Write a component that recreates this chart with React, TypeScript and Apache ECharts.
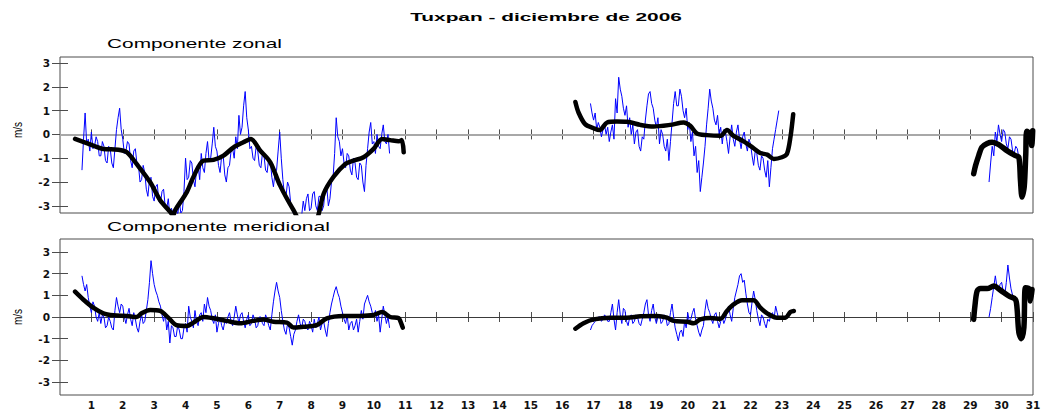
import React, { useEffect, useRef } from "react";
import * as echarts from "echarts";

// ---------- texts ----------
const TITLE = "Tuxpan - diciembre de 2006";
const PANEL_TITLES = ["Componente zonal", "Componente meridional"];
const Y_UNIT = "m/s";

// ---------- ticks ----------
const DAY_TICKS = [1, 2, 3, 4, 5, 6, 7, 8, 9, 10, 11, 12, 13, 14, 15, 16, 17, 18, 19, 20, 21, 22, 23, 24, 25, 26, 27, 28, 29, 30, 31];
const VALUE_TICKS = [-3, -2, -1, 0, 1, 2, 3];
const BLUE_STEP = 0.05; // days between samples of the raw series

// ---------- Componente zonal : raw (blue) ----------
const zonalRaw1Start = 0.7;
const zonalRaw1 = [-1.5, -0.2, 0.9, -0.4, -0.2, -0.7, 0.1, -0.6, -0.5, -0.1, -0.3, -0.9, -0.9, -0.3, -0.5, -1.1, -1.2, -0.5, -0.6, -1.2, -1.4, -0.6, 0.2, 0.7, 1.1, 0.2, -0.2, -0.8, -0.7, -0.3, -0.4, -1.1, -1.4, -0.7, -0.6, -1.2, -1.3, -2.0, -1.9, -1.3, -1.6, -2.3, -2.6, -1.9, -1.8, -2.6, -2.8, -2.2, -2.1, -2.8, -2.9, -2.4, -2.3, -3.0, -3.1, -2.7, -3.4, -3.1, -3.3, -3.5, -3.0, -3.4, -2.8, -3.3, -3.2, -2.4, -1.0, -1.9, -1.8, -1.1, -1.2, -1.9, -2.2, -1.5, -1.3, -1.9, -0.8, -1.4, -1.6, -0.8, -0.3, -1.1, -1.0, -0.4, 0.3, -0.5, -0.7, -1.3, -1.6, -0.9, -0.9, -1.7, -2.0, -1.4, -1.3, -0.7, -0.6, -1.0, -0.1, -0.6, 0.8, 0.0, 0.3, 1.2, 1.8, 0.7, 0.2, -0.6, -0.5, -1.0, -1.1, -0.5, -0.7, -1.3, -1.4, -0.8, -0.9, -1.5, -1.6, -1.0, -1.1, -1.8, -2.2, -1.6, -1.5, -0.7, 0.1, -1.0, -1.9, -2.5, -2.6, -2.0, -2.2, -2.9, -3.1, -3.4, -3.5, -3.7, -3.6, -3.6, -3.4, -2.8, -3.2, -2.7, -2.5, -3.2, -3.1, -2.5, -2.4, -3.0, -3.2, -2.6, -2.6, -3.2, -3.0, -2.3, -2.2, -3.0, -2.7, -2.0, -1.8, -0.8, 0.7, -0.1, -0.3, -0.9, -0.6, -1.2, -1.4, -0.8, -0.9, -1.5, -1.7, -1.0, -1.2, -1.8, -1.9, -1.2, -1.3, -2.0, -2.4, -1.3, -0.6, 0.1, 0.5, -0.4, -0.3, -0.8, 0.0, -0.5, -0.6, 0.0, 0.4, -0.3, -0.4, 0.0, -0.8];
const zonalRaw2Start = 16.9;
const zonalRaw2 = [1.3, 0.9, 0.6, 0.9, 0.2, 0.5, 0.3, -0.1, 0.2, 0.4, 0.0, 0.3, -0.3, 0.1, 0.4, -0.2, 1.5, 0.9, 2.4, 1.9, 1.6, 1.1, 0.8, 1.2, 0.3, 0.7, 0.0, 0.4, -0.4, 0.1, 0.2, -0.5, -0.7, -0.1, -0.2, 0.6, 1.2, 1.7, 1.8, 1.3, 1.1, 0.6, 0.3, 0.7, -0.4, 0.2, 0.0, -0.5, -0.7, -0.2, -1.1, -0.3, 0.5, 1.3, 1.8, 1.2, 1.2, 1.9, 1.6, 1.0, 0.7, 1.1, 0.2, 0.5, -0.3, 0.1, -0.9, -0.5, -1.6, -1.1, -2.4, -1.8, -1.2, -0.5, 0.4, 1.1, 1.9, 1.4, 1.1, 0.6, 0.4, 0.8, 0.0, 0.3, -0.4, 0.2, 0.1, -0.3, -0.8, -0.1, 0.4, -0.2, -0.5, 0.1, 0.4, -0.2, -0.6, -0.1, 0.1, -0.4, -0.7, -0.2, -0.4, -0.9, -1.3, -0.7, -0.8, -1.3, -1.5, -0.9, -1.0, -1.5, -1.8, -1.1, -2.2, -1.4, -0.6, -0.2, 0.2, 0.6, 1.0];
const zonalRaw3Start = 29.6;
const zonalRaw3 = [-2.0, -1.2, -0.5, -0.9, 0.1, -0.3, 0.4, 0.0, -0.3, 0.2, 0.1, -0.4, -0.6, -0.1, -0.2, -0.7, -0.8, -0.5, -0.6, -1.0, -1.3];

// ---------- Componente zonal : filtered (black) ----------
const zonalSmooth1Days = [0.48, 1.06, 1.38, 1.86, 2.13, 2.44, 2.87, 3.19, 3.51, 3.6, 3.67, 4.04, 4.25, 4.57, 4.89, 5.21, 5.53, 5.84, 6.08, 6.38, 6.7, 7.01, 7.44, 7.8, 8.1, 8.24, 8.4, 8.71, 9.09, 9.35, 9.67, 9.99, 10.26, 10.52, 10.79, 10.89, 10.95];
const zonalSmooth1 = [-0.19, -0.47, -0.61, -0.64, -0.75, -1.24, -2.0, -2.76, -3.25, -3.4, -3.18, -2.42, -1.79, -1.1, -1.07, -0.89, -0.54, -0.33, -0.19, -0.68, -1.17, -2.14, -3.18, -3.9, -3.8, -3.35, -2.49, -1.79, -1.24, -1.1, -0.96, -0.61, -0.19, -0.24, -0.29, -0.24, -0.75];
const zonalSmooth2Days = [16.42, 16.52, 16.73, 17.0, 17.19, 17.43, 17.74, 18.06, 18.49, 18.91, 19.44, 19.87, 20.08, 20.29, 20.61, 21.04, 21.25, 21.46, 21.78, 22.1, 22.31, 22.53, 22.74, 23.0, 23.16, 23.27, 23.36];
const zonalSmooth2 = [1.36, 0.92, 0.43, 0.26, 0.18, 0.5, 0.54, 0.53, 0.4, 0.33, 0.4, 0.5, 0.36, 0.04, -0.03, -0.06, 0.18, -0.06, -0.29, -0.58, -0.78, -0.85, -1.03, -0.96, -0.82, -0.13, 0.85];
const zonalSmooth3Days = [29.11, 29.17, 29.27, 29.37, 29.54, 29.7, 29.91, 30.17, 30.44, 30.55, 30.6, 30.65, 30.72, 30.77, 30.8, 30.91, 30.96, 30.99];
const zonalSmooth3 = [-1.65, -1.31, -0.89, -0.54, -0.38, -0.33, -0.43, -0.68, -0.89, -0.96, -1.93, -2.63, -2.21, -0.82, 0.13, 0.01, -0.47, 0.15];

// ---------- Componente meridional : raw (blue) ----------
const meridRaw1Start = 0.7;
const meridRaw1 = [1.9, 1.5, 1.2, 1.5, 0.9, 0.5, 0.2, 0.7, 0.5, 0.0, -0.2, 0.2, -0.3, 0.1, 0.0, -0.5, -0.4, 0.0, -0.2, -0.5, -0.6, 0.3, 0.9, 0.5, 0.2, 0.6, 0.5, 0.0, -0.3, 0.1, 0.4, -0.1, -0.4, 0.2, -0.1, -0.5, -0.7, -0.2, 0.1, -0.3, -0.2, 0.3, 0.8, 1.6, 2.6, 2.0, 1.5, 1.2, 1.0, 0.7, 0.5, 0.1, -0.2, 0.2, -0.6, -0.2, -1.2, -0.4, -0.5, -0.9, -0.9, -0.4, -0.6, -1.0, -1.0, -0.5, -0.3, -0.7, 0.5, 0.0, -0.2, -0.5, 0.3, -0.2, -0.4, 0.1, 0.2, -0.2, 0.6, 0.2, 0.9, 0.5, 0.3, -0.1, -0.3, 0.1, -0.7, -0.3, 0.0, -0.4, -0.6, -0.2, -0.3, 0.0, 0.2, -0.2, -0.4, 0.0, 0.5, 0.1, -0.3, 0.1, 0.2, -0.2, -0.5, -0.1, 0.1, -0.4, -0.3, 0.1, -0.1, -0.5, -0.4, 0.0, 0.0, -0.3, -0.4, 0.1, -0.1, -0.4, -0.6, 0.1, 0.7, 1.2, 1.6, 1.2, 0.9, 0.3, -0.2, -0.6, -0.8, -0.3, -0.5, -0.9, -1.3, -0.8, -0.6, -0.2, 0.1, -0.3, -0.5, -0.1, -0.2, -0.5, -0.6, -0.2, -0.4, -0.7, -0.1, -0.5, -0.3, 0.0, -0.6, -0.3, -0.2, -0.6, -0.9, -0.3, 0.2, 0.6, 0.9, 1.2, 1.4, 1.1, 0.9, 0.5, 0.2, -0.1, -0.3, 0.1, -0.6, -0.3, -0.2, -0.6, -0.4, -0.1, -0.7, -0.2, 0.3, -0.1, 0.6, 0.8, 1.0, 0.7, 0.5, 0.2, 0.0, 0.3, -0.2, 0.1, -0.7, -0.1, 0.5, 0.1, -0.3, 0.0, -0.5];
const meridRaw2Start = 16.9;
const meridRaw2 = [-0.6, -0.4, -0.3, -0.2, -0.1, 0.0, 0.0, -0.2, -0.1, 0.1, 0.0, -0.2, -0.2, 0.2, 0.6, -0.1, -0.6, 0.2, 0.8, 0.1, -0.3, 0.4, 0.3, -0.2, -0.4, 0.0, 0.1, -0.3, -0.2, 0.1, 0.0, -0.3, -0.4, -0.1, 0.2, 0.6, 0.8, 0.1, -0.2, 0.3, 0.6, 0.0, -0.3, 0.0, 0.1, -0.3, -0.2, 0.1, 0.0, -0.4, -0.3, 0.2, 0.6, 0.0, -0.5, -0.8, -1.1, -0.7, -0.6, -0.9, -0.2, -0.5, 0.2, -0.2, -0.1, 0.2, 0.4, -0.1, -0.4, -0.7, -0.9, -0.6, -0.4, 0.3, 0.8, 0.4, 0.2, -0.1, -0.3, 0.1, 0.2, -0.2, -0.5, -0.2, 0.0, -0.3, -0.1, 0.2, 0.5, 0.1, -0.2, 0.4, 0.9, 1.2, 1.5, 1.9, 2.0, 1.6, 1.7, 1.1, 0.6, 0.2, 0.1, 0.7, 1.2, 0.8, 0.3, -0.1, -0.4, 0.1, 0.0, -0.3, -0.5, -0.1, -0.2, 0.1, 0.2, -0.1, 0.5, 0.2, -0.1];
const meridRaw3Start = 29.6;
const meridRaw3 = [0.0, 0.4, 0.9, 1.4, 1.9, 1.4, 1.2, 1.5, 1.6, 1.2, 1.0, 1.6, 2.4, 1.8, 1.3, 1.0, 0.9, 0.6, 0.4];

// ---------- Componente meridional : filtered (black) ----------
const meridSmooth1Days = [0.48, 0.74, 1.06, 1.38, 1.7, 2.13, 2.44, 2.6, 2.87, 3.19, 3.45, 3.72, 4.04, 4.25, 4.57, 4.89, 5.31, 5.74, 6.16, 6.48, 6.8, 7.23, 7.44, 7.76, 8.18, 8.5, 9.03, 9.56, 9.99, 10.26, 10.52, 10.79, 10.84, 10.92];
const meridSmooth1 = [1.17, 0.81, 0.43, 0.17, 0.08, 0.05, 0.0, 0.17, 0.32, 0.28, -0.03, -0.38, -0.41, -0.26, 0.0, -0.06, -0.18, -0.29, -0.18, -0.11, -0.22, -0.26, -0.49, -0.45, -0.38, -0.06, 0.05, 0.05, 0.09, 0.23, 0.0, -0.05, -0.18, -0.49];
const meridSmooth2Days = [16.42, 16.68, 17.0, 17.53, 18.06, 18.49, 19.02, 19.34, 19.55, 19.98, 20.19, 20.4, 20.72, 21.04, 21.25, 21.46, 21.73, 22.1, 22.31, 22.53, 22.84, 23.11, 23.27, 23.38];
const meridSmooth2 = [-0.54, -0.29, -0.11, -0.03, -0.03, 0.03, 0.05, -0.03, -0.18, -0.22, -0.29, -0.11, -0.05, -0.08, 0.28, 0.58, 0.77, 0.77, 0.43, 0.17, -0.03, -0.03, 0.23, 0.28];
const meridSmooth3Days = [29.11, 29.15, 29.22, 29.33, 29.54, 29.75, 29.97, 30.23, 30.44, 30.49, 30.55, 30.63, 30.71, 30.76, 30.87, 30.92, 30.97];
const meridSmooth3 = [-0.11, 0.51, 1.2, 1.31, 1.31, 1.43, 1.23, 0.97, 0.81, 0.43, -0.72, -1.0, -0.49, 1.35, 1.31, 0.74, 1.27];

// ---------- helpers ----------
const rawPairs = (start: number, vals: number[]) => vals.map((v, i) => [+(start + i * BLUE_STEP).toFixed(3), v]);
const pairs = (days: number[], vals: number[]) => days.map((d, i) => [d, vals[i]]);

const panels = [
  {
    raw: [rawPairs(zonalRaw1Start, zonalRaw1), rawPairs(zonalRaw2Start, zonalRaw2), rawPairs(zonalRaw3Start, zonalRaw3)],
    smooth: [pairs(zonalSmooth1Days, zonalSmooth1), pairs(zonalSmooth2Days, zonalSmooth2), pairs(zonalSmooth3Days, zonalSmooth3)],
    min: -3.3, max: 3.25, zeroColor: "#a8a8a8", zeroWidth: 2,
  },
  {
    raw: [rawPairs(meridRaw1Start, meridRaw1), rawPairs(meridRaw2Start, meridRaw2), rawPairs(meridRaw3Start, meridRaw3)],
    smooth: [pairs(meridSmooth1Days, meridSmooth1), pairs(meridSmooth2Days, meridSmooth2), pairs(meridSmooth3Days, meridSmooth3)],
    min: -3.6, max: 3.6, zeroColor: "#3a3a3a", zeroWidth: 1,
  },
];

const GRID_TOPS = [57, 239];
const FRAME = "#4d4d4d";
const LABEL_FONT = "DejaVu Sans";
const SMOOTH_WIDTHS = [4.5, 4.5, 5.5];

function measure(text: string, font: string): number {
  const c = document.createElement("canvas").getContext("2d");
  if (!c) return text.length * 7;
  c.font = font;
  return c.measureText(text).width;
}

export default function App() {
  const ref = useRef<HTMLDivElement>(null);
  useEffect(() => {
    if (!ref.current) return;
    const chart = echarts.init(ref.current, undefined, { renderer: "svg" });

    const grid: any[] = [];
    const xAxis: any[] = [];
    const yAxis: any[] = [];
    const series: any[] = [];
    const labelStyle = { fontFamily: LABEL_FONT, fontSize: 10.5, fontWeight: "bold", color: "#111" };

    panels.forEach((p, pi) => {
      grid.push({ left: 60, right: 13, top: GRID_TOPS[pi], height: 156, show: true, borderColor: FRAME, borderWidth: 1, backgroundColor: "transparent" });
      const xBase = {
        gridIndex: pi, type: "value", min: 0, max: 31, interval: 1,
        axisLine: { show: false }, splitLine: { show: false },
        axisTick: { inside: true, length: 5, lineStyle: { color: FRAME }, customValues: DAY_TICKS },
      };
      xAxis.push({
        ...xBase, position: "bottom",
        axisLabel: { show: pi === 1, customValues: DAY_TICKS, margin: 4, ...labelStyle },
      });
      xAxis.push({ ...xBase, position: "top", axisLabel: { show: false } });
      const yBase = {
        gridIndex: pi, type: "value", min: p.min, max: p.max,
        axisLine: { show: false }, splitLine: { show: false },
        axisTick: { inside: true, length: 8, lineStyle: { color: FRAME }, customValues: VALUE_TICKS },
      };
      yAxis.push({
        ...yBase, position: "left",
        axisLabel: { customValues: VALUE_TICKS, margin: 10, ...labelStyle, formatter: (v: number) => String(v) },
      });
      yAxis.push({ ...yBase, position: "right", axisLabel: { show: false } });

      p.raw.forEach((d, si) => {
        series.push({
          type: "line", xAxisIndex: pi * 2, yAxisIndex: pi * 2, data: d, symbol: "none", silent: true, clip: true, z: 3,
          lineStyle: { color: "#0000ff", width: 1 },
          markLine: si === 0 ? {
            silent: true, symbol: ["none", "none"], label: { show: false }, z: 1,
            lineStyle: { color: p.zeroColor, width: p.zeroWidth, type: "solid" },
            data: [{ yAxis: 0 }],
          } : undefined,
        });
      });
      p.smooth.forEach((d, si) => {
        series.push({
          type: "line", xAxisIndex: pi * 2, yAxisIndex: pi * 2, data: d, symbol: "none", silent: true, clip: true, z: 4,
          smooth: 0.3,
          lineStyle: { color: "#000", width: SMOOTH_WIDTHS[si], cap: "round", join: "round" },
        });
      });
    });

    const titleFont = "bold 11px 'Liberation Sans'";
    const subFont = "13px 'Liberation Sans'";
    const graphic: any[] = [
      {
        type: "text", x: 546, y: 17, scaleX: 272 / measure(TITLE, titleFont),
        style: { text: TITLE, font: titleFont, fill: "#000", align: "center", verticalAlign: "middle" },
      },
      {
        type: "text", x: 107, y: 44, scaleX: 175 / measure(PANEL_TITLES[0], subFont),
        style: { text: PANEL_TITLES[0], font: subFont, fill: "#000", align: "left", verticalAlign: "middle" },
      },
      {
        type: "text", x: 107, y: 227, scaleX: 223 / measure(PANEL_TITLES[1], subFont),
        style: { text: PANEL_TITLES[1], font: subFont, fill: "#000", align: "left", verticalAlign: "middle" },
      },
      {
        type: "text", x: 18, y: 130, rotation: Math.PI / 2, scaleY: 1.3,
        style: { text: Y_UNIT, font: "10px 'Liberation Sans'", fill: "#000", align: "center", verticalAlign: "middle" },
      },
      {
        type: "text", x: 18, y: 317, rotation: Math.PI / 2, scaleY: 1.3,
        style: { text: Y_UNIT, font: "10px 'Liberation Sans'", fill: "#000", align: "center", verticalAlign: "middle" },
      },
    ];

    chart.setOption({ animation: false, backgroundColor: "#fff", grid, xAxis, yAxis, series, graphic });
    return () => chart.dispose();
  }, []);

  return <div ref={ref} style={{ position: "fixed", left: 0, top: 0, width: 1046, height: 416 }} />;
}
